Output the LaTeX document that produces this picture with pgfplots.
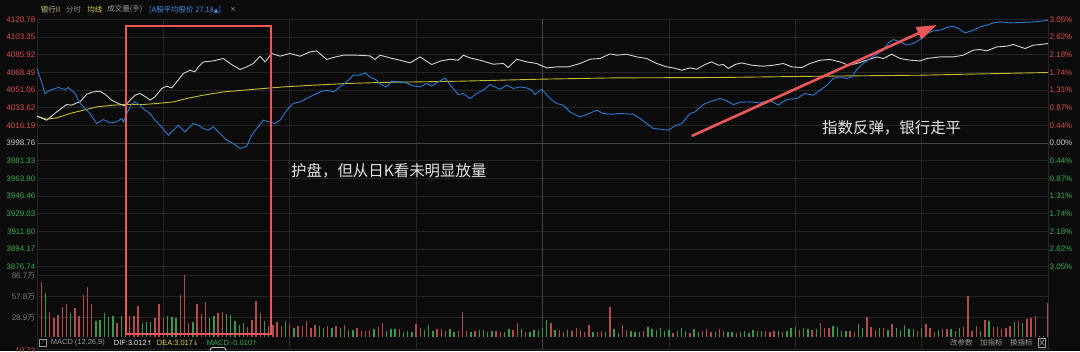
\documentclass[border=0pt]{standalone}
\usepackage{pgfplots}
\pgfplotsset{compat=1.18}
\usepackage{fontspec}
\setmainfont{Liberation Sans}
\newfontfamily\cjk{Noto Sans CJK SC}
\newfontfamily\sym{DejaVu Sans}
\usetikzlibrary{arrows.meta}

\definecolor{bg}{HTML}{0B0B0B}
\definecolor{gridc}{HTML}{262626}
\definecolor{gridhi}{HTML}{444444}
\definecolor{upred}{HTML}{D9504E}
\definecolor{dngreen}{HTML}{3DAE4F}
\definecolor{flatgray}{HTML}{CFCFCF}
\definecolor{pxwhite}{HTML}{D4D4D4}
\definecolor{pxblue}{HTML}{2E7BD4}
\definecolor{pxyellow}{HTML}{C6BE30}
\definecolor{volred}{HTML}{B54B4B}
\definecolor{volgreen}{HTML}{3A9A4C}
\definecolor{labgray}{HTML}{9C9C9C}
\definecolor{hdrkhaki}{HTML}{CFC48A}
\definecolor{hdryellow}{HTML}{E0CF3A}
\definecolor{hdrblue}{HTML}{3F8FE6}
\definecolor{markred}{HTML}{EC5757}
\definecolor{annot}{HTML}{E6E6E6}

\pgfplotsset{
  panel/.style={
    anchor=south west, scale only axis, width=1011bp,
    xmin=0, xmax=240,
    axis line style={draw=none}, major tick length=0pt,
    xtick={0,30,...,240}, xticklabels={},
    grid=major, grid style={gridc, line width=0.7bp},
    yticklabel style={font=\fontsize{8}{9.6}\selectfont, inner xsep=1.5bp},
  },
  pricey/.style={
    ymin=3876.74, ymax=4120.78,
    ytick={3876.74,3894.17,3911.60,3929.03,3946.46,3963.90,3981.33,3998.76,
           4016.19,4033.62,4051.06,4068.49,4085.92,4103.35,4120.78},
  },
}

\begin{document}
\begin{tikzpicture}
% page background, 1080 x 351
\fill[bg] (0bp,0bp) rectangle (1080bp,351bp);

% ---------- intraday price panel ----------
\begin{axis}[panel, pricey, at={(37bp,84.3bp)}, height=247.4bp,
  yticklabels={
    \textcolor{dngreen}{3876.74},\textcolor{dngreen}{3894.17},\textcolor{dngreen}{3911.60},
    \textcolor{dngreen}{3929.03},\textcolor{dngreen}{3946.46},\textcolor{dngreen}{3963.90},
    \textcolor{dngreen}{3981.33},\textcolor{flatgray}{3998.76},\textcolor{upred}{4016.19},
    \textcolor{upred}{4033.62},\textcolor{upred}{4051.06},\textcolor{upred}{4068.49},
    \textcolor{upred}{4085.92},\textcolor{upred}{4103.35},\textcolor{upred}{4120.78}},
]
\draw[gridhi, line width=0.8bp] (axis cs:0,3998.76) -- (axis cs:240,3998.76);
\draw[gridhi, line width=0.8bp] (axis cs:120,3876.74) -- (axis cs:120,4120.78);

% average price
\addplot[pxyellow, line width=0.9bp] coordinates {
(0,4025.20) (2.30,4022.24) (4.68,4023.52) (7.83,4027.86) (10.99,4031.11) (14.17,4034.37)
(18.11,4036.05) (21.29,4036.74) (25.24,4036.74) (28.42,4037.72) (32.36,4039.30) (35.54,4042.65)
(39.48,4045.91) (44.23,4049.16) (48.98,4050.84) (53.72,4052.52) (58.47,4054.10) (65.59,4055.77)
(73.52,4057.45) (81.43,4058.44) (100.42,4059.72) (119.41,4061.69) (136.81,4062.98) (162.14,4063.37)
(185.89,4064.65) (209.62,4065.64) (240,4068.30)};

% sector index
\addplot[pxwhite, line width=0.9bp] coordinates {
(0,4025.20) (2.30,4021.25) (4.68,4029.44) (7.05,4036.74) (8.24,4036.05) (9.42,4038.31) (10.21,4039.30)
(11.80,4046.90) (13.37,4049.16) (14.96,4049.86) (16.14,4046.90) (17.73,4040.98) (19.30,4037.72)
(20.89,4035.36) (22.08,4040.98) (23.27,4045.91) (24.45,4047.59) (26.04,4043.64) (26.83,4040.98)
(28.01,4044.23) (29.60,4052.52) (30.79,4054.79) (31.98,4053.11) (33.16,4059.03) (34.73,4067.31)
(36.32,4070.57) (37.51,4068.89) (38.29,4073.83) (39.48,4078.76) (41.85,4079.74) (44.23,4082.11)
(45.82,4077.18) (48.19,4071.26) (49.78,4073.83) (51.35,4077.18) (52.94,4084.38) (54.13,4078.76)
(55.72,4087.04) (57.69,4084.38) (60.06,4087.04) (62.44,4084.38) (64.81,4088.62) (66.40,4089.61)
(68.77,4081.12) (70.34,4083.10) (72.72,4085.37) (75.90,4085.37) (79.05,4084.68) (80.24,4081.12)
(81.43,4085.37) (83.80,4082.70) (86.17,4080.43) (88.55,4077.77) (90.92,4083.69) (93.70,4076.19)
(95.67,4079.45) (98.05,4081.42) (100.02,4080.43) (101.20,4085.37) (102.79,4082.70) (105.17,4080.43)
(108.32,4076.49) (110.70,4077.18) (111.88,4073.23) (113.88,4081.42) (116.25,4078.76) (118.63,4077.18)
(121.00,4072.84) (123.38,4073.83) (126.13,4073.83) (128.91,4077.18) (131.28,4081.42) (133.66,4082.11)
(136.03,4086.65) (137.62,4085.37) (139.99,4086.35) (142.37,4083.69) (144.74,4082.11) (147.11,4077.18)
(149.49,4073.83) (151.06,4072.84) (153.05,4070.57) (155.02,4072.84) (156.61,4071.56) (158.58,4076.19)
(160.17,4078.76) (161.74,4075.50) (162.93,4076.19) (164.12,4072.25) (165.71,4076.19) (167.29,4077.77)
(169.67,4075.50) (172.42,4074.52) (174.80,4075.50) (177.17,4077.18) (179.17,4073.83) (181.54,4073.23)
(183.51,4077.18) (185.89,4080.43) (188.26,4081.12) (190.64,4078.76) (192.61,4075.50) (194.60,4077.18)
(196.97,4080.43) (199.35,4083.69) (200.91,4082.11) (202.90,4086.35) (204.87,4082.11) (207.25,4080.43)
(209.62,4079.74) (211.21,4082.11) (214.37,4083.69) (217.53,4083.69) (219.90,4085.37) (222.28,4090.30)
(223.87,4090.99) (225.46,4089.61) (227.83,4093.55) (230.21,4094.24) (231.77,4095.92) (234.55,4091.97)
(236.52,4095.23) (238.90,4096.22) (240,4096.91)};

% broad market index
\addplot[pxblue, line width=0.9bp] coordinates {
(0,4072.25) (0.95,4060.71) (1.90,4047.59) (3.09,4050.84) (5.06,4053.51) (6.65,4051.53) (7.43,4053.51)
(9.02,4047.59) (10.21,4038.02) (11.40,4032.79) (12.58,4027.86) (14.17,4017.99) (15.74,4021.94)
(17.33,4018.59) (18.92,4019.57) (20.11,4022.93) (20.49,4019.57) (21.29,4027.86) (22.48,4037.03)
(23.27,4039.30) (24.45,4036.05) (25.64,4031.11) (26.83,4027.86) (28.01,4021.25) (29.60,4014.64)
(31.17,4006.45) (32.36,4011.39) (33.54,4016.32) (35.13,4009.71) (37.10,4017.99) (38.29,4016.32)
(39.48,4013.06) (40.67,4011.39) (41.85,4014.64) (43.44,4008.13) (45.03,4001.52) (46.60,3998.27)
(48.19,3993.33) (49.78,3995.60) (50.97,4006.45) (52.15,4013.06) (53.72,4021.25) (55.31,4019.28)
(56.50,4017.99) (57.69,4021.25) (59.28,4031.11) (60.85,4037.72) (62.44,4039.30) (64.03,4042.65)
(65.59,4045.91) (67.18,4049.16) (68.77,4050.84) (70.34,4049.16) (71.93,4054.10) (73.52,4059.03)
(75.09,4065.64) (76.68,4065.64) (77.87,4067.91) (79.05,4063.96) (80.64,4060.71) (81.43,4056.76)
(83.02,4054.10) (84.21,4059.72) (86.17,4059.03) (87.76,4058.04) (89.33,4055.08) (90.92,4054.10)
(92.51,4057.45) (93.70,4054.79) (95.27,4059.03) (96.86,4062.98) (98.45,4054.10) (100.02,4046.60)
(101.20,4047.59) (102.79,4042.65) (104.38,4047.59) (105.95,4050.84) (107.54,4056.46) (108.73,4054.10)
(109.91,4051.83) (111.50,4055.77) (113.07,4052.52) (114.66,4054.10) (116.25,4053.11) (117.44,4050.84)
(118.22,4046.60) (119.81,4051.83) (121.79,4042.65) (123.38,4037.72) (124.94,4036.05) (126.53,4029.44)
(128.91,4024.51) (130.50,4026.87) (132.87,4031.11) (134.44,4027.86) (136.43,4027.17) (138.40,4027.86)
(141.56,4027.17) (143.15,4022.93) (144.74,4017.99) (146.31,4013.06) (147.90,4012.37) (149.87,4011.39)
(151.46,4015.63) (153.05,4017.99) (155.02,4027.86) (156.21,4029.44) (158.18,4036.74) (160.17,4039.99)
(162.14,4042.65) (163.73,4040.48) (165.30,4036.54) (166.89,4039.01) (169.26,4039.30) (171.64,4038.31)
(174.01,4040.98) (175.98,4036.05) (177.98,4041.67) (180.35,4042.65) (182.32,4047.59) (184.29,4045.91)
(185.89,4050.84) (187.48,4055.77) (189.04,4062.38) (190.64,4063.96) (192.23,4062.38) (193.41,4063.96)
(194.60,4071.26) (196.16,4077.18) (197.75,4082.11) (198.94,4085.37) (200.91,4090.30) (202.10,4097.50)
(203.28,4100.85) (204.87,4098.49) (206.46,4095.23) (208.03,4096.91) (210.02,4101.84) (211.21,4106.77)
(212.77,4109.34) (214.37,4110.03) (215.96,4112.69) (217.53,4113.97) (219.12,4110.72) (220.30,4107.36)
(221.89,4109.34) (223.87,4113.28) (225.46,4114.96) (227.02,4117.23) (228.61,4118.21) (230.99,4117.23)
(233.36,4117.62) (236.52,4118.21) (238.90,4119.20) (240,4119.89)};
\end{axis}

% percent scale on the right
\begin{axis}[panel, pricey, at={(37bp,84.3bp)}, height=247.4bp, grid=none,
  yticklabel pos=right,
  yticklabels={
    \textcolor{dngreen}{3.05\%},\textcolor{dngreen}{2.62\%},\textcolor{dngreen}{2.18\%},
    \textcolor{dngreen}{1.74\%},\textcolor{dngreen}{1.31\%},\textcolor{dngreen}{0.87\%},
    \textcolor{dngreen}{0.44\%},\textcolor{flatgray}{0.00\%},\textcolor{upred}{0.44\%},
    \textcolor{upred}{0.87\%},\textcolor{upred}{1.31\%},\textcolor{upred}{1.74\%},
    \textcolor{upred}{2.18\%},\textcolor{upred}{2.62\%},\textcolor{upred}{3.05\%}},
]
\end{axis}

% ---------- volume panel ----------
\begin{axis}[panel, at={(37bp,14.5bp)}, height=69.8bp,
  ymin=2.2, ymax=99.2,
  ytick={28.9,57.8,86.7},
  yticklabels={28.9{\cjk 万},57.8{\cjk 万},86.7{\cjk 万}},
  yticklabel style={text=labgray!130},
]
\draw[gridhi, line width=0.8bp] (axis cs:120,2.2) -- (axis cs:120,99.2);
\addplot[ycomb, draw=volred, line width=1.4bp] coordinates {
(1,78.4) (3,36.7) (4,27.5) (5,32.1) (6,42.7) (7,46.9) (9,42.3) (10,31.2) (11,59.9) (12,71.4) (13,47.4)
(19,21.4) (22,30.7) (23,30.7) (24,44.6) (28,28.4) (29,46.9) (30,27.5) (34,59.9) (35,87.6) (36,20.5)
(38,46.9) (39,33.0) (40,49.7) (43,35.3) (44,35.8) (50,15.9) (51,25.1) (52,51.5) (53,35.3) (55,17.3)
(56,18.0) (57,22.8) (58,16.8) (60,19.1) (62,17.3) (63,16.8) (64,23.8) (65,13.6) (66,18.2) (69,16.8)
(71,16.8) (73,18.2) (76,13.6) (77,10.3) (78,10.3) (79,11.3) (81,15.9) (82,21.4) (86,12.2) (90,19.1)
(91,14.5) (95,12.6) (96,12.6) (97,9.9) (100,9.9) (101,36.7) (102,9.9) (104,9.9) (109,9.9) (110,8.9)
(113,11.3) (114,21.4) (116,8.9) (122,21.4) (124,11.3) (125,8.9) (127,9.9) (128,13.6) (129,11.3)
(130,8.9) (131,18.2) (133,8.9) (134,9.9) (136,42.7) (139,18.2) (140,11.3) (144,9.9) (151,7.5)
(155,7.5) (158,9.9) (159,12.2) (160,8.9) (162,12.2) (163,10.3) (166,7.5) (173,10.3) (174,8.9)
(175,9.9) (177,8.9) (181,11.3) (184,11.3) (186,20.5) (187,14.5) (188,13.6) (193,9.9) (194,8.9)
(197,29.8) (198,15.0) (199,11.3) (201,14.5) (203,19.1) (209,10.3) (211,19.6) (212,14.5) (213,8.9)
(215,12.6) (216,12.2) (220,15.0) (221,58.5) (222,10.3) (223,16.8) (225,25.1) (227,15.9) (228,15.9)
(229,12.6) (230,13.6) (231,16.8) (233,23.8) (235,26.5) (236,27.5) (237,30.7) (240,49.2)};
\addplot[ycomb, draw=volgreen, line width=1.4bp] coordinates {
(2,63.1) (8,35.3) (14,23.8) (15,25.1) (16,35.3) (17,29.8) (18,30.7) (20,30.7) (21,24.0) (25,20.5)
(26,21.9) (27,22.8) (31,30.7) (32,28.9) (33,27.5) (37,21.9) (41,27.5) (42,31.2) (45,33.0) (46,32.1)
(47,23.8) (48,18.2) (49,20.5) (54,23.8) (59,23.8) (61,13.6) (67,17.3) (68,13.6) (70,13.6) (72,14.5)
(74,11.3) (75,11.3) (80,12.2) (83,10.3) (84,12.2) (85,12.6) (87,8.9) (88,10.3) (89,8.9) (92,11.3)
(93,18.2) (94,9.9) (98,12.6) (99,8.9) (103,8.9) (105,11.3) (106,11.3) (107,8.9) (108,10.3) (111,8.0)
(112,12.6) (115,12.6) (117,8.9) (118,11.3) (119,11.3) (120,13.6) (121,25.1) (123,11.3) (126,11.3)
(132,8.9) (135,8.9) (137,12.6) (138,7.5) (141,10.3) (142,8.9) (143,8.9) (145,15.0) (146,12.6)
(147,11.3) (148,13.6) (149,10.3) (150,11.3) (152,10.3) (153,13.6) (154,10.3) (156,12.6) (157,8.9)
(161,8.9) (164,8.9) (165,8.0) (167,8.9) (168,10.3) (169,7.5) (170,11.3) (171,9.9) (172,9.9) (176,9.9)
(178,10.3) (179,14.5) (180,15.0) (182,13.6) (183,12.6) (185,12.6) (189,16.8) (190,15.0) (191,10.3)
(192,10.3) (195,19.6) (196,14.5) (200,13.6) (202,11.3) (204,13.6) (205,11.3) (206,18.2) (207,12.6)
(208,12.2) (210,13.6) (214,11.3) (217,12.2) (218,10.3) (219,13.6) (224,10.3) (226,23.8) (232,21.9)
(234,20.5) (238,3.0) (239,2.5)};
\end{axis}

\begin{scope}[x=1bp,y=1bp]
% ---------- header ----------
\begin{scope}[every node/.style={anchor=west, inner sep=0pt, font=\cjk\fontsize{7.5}{9}\selectfont}]
\node[text=hdrkhaki] at (40.7,341.5) {银行II};
\node[text=labgray!120] at (66,341.5) {分时};
\node[text=hdryellow] at (87.3,341.5) {均线};
\node[text=labgray] at (107.3,341.5) {成交量(手)};
\node[text=hdrblue] at (149,341.5) {[A股平均股价 27.18{\sym\fontsize{6}{7}\selectfont ▲}]};
\node[text=labgray] at (230,341.5) {\sym\fontsize{7}{8}\selectfont ×};
\end{scope}

% grid continues through the indicator strip
\foreach \k in {0,...,8} \draw[gridc, line width=0.7bp] ({37+126.375*\k},0) -- ({37+126.375*\k},14.5);
\draw[gridhi, line width=0.8bp] (542.5,0) -- (542.5,14.5);
\draw[gridc, line width=0.7bp] (37,1.7) -- (1048,1.7);

% ---------- indicator strip ----------
\fill[black] (39.3,4.5) rectangle (46.7,12);
\draw[labgray, line width=0.5bp] (39.3,4.5) rectangle (46.7,12);
\node[inner sep=0pt, text=labgray!130, font=\fontsize{6.5}{7}\selectfont] at (43,8.3) {?};
\begin{scope}[every node/.style={anchor=west, inner sep=0pt, font=\fontsize{7.5}{9}\selectfont}]
\node[text=labgray] at (50.7,8) {MACD (12,26,9)};
\node[text=annot] at (113.7,8) {DIF:3.012{\sym\fontsize{6.5}{7}\selectfont ↑}};
\node[text=hdryellow] at (156.7,8) {DEA:3.017{\sym\fontsize{6.5}{7}\selectfont ↓}};
\node[text=dngreen] at (206.7,8) {MACD:-0.010{\sym\fontsize{6.5}{7}\selectfont ↑}};
\end{scope}
\node[anchor=base east, inner sep=0pt, text=upred, font=\fontsize{8}{9}\selectfont] at (35.5,-2.6) {10.73};
\draw[white!80!black, line width=0.8bp, rounded corners=3bp] (210,-4) rectangle (226,3.6);
\begin{scope}[every node/.style={anchor=west, inner sep=0pt, text=labgray, font=\cjk\fontsize{7.5}{9}\selectfont}]
\node at (950,8.5) {改参数};
\node at (980,8.5) {加指标};
\node at (1010,8.5) {换指标};
\end{scope}
\draw[labgray, line width=0.6bp] (1038,4) rectangle (1045.7,13);
\draw[labgray, line width=0.6bp] (1039.5,5.5) -- (1044.2,11.5) (1039.5,11.5) -- (1044.2,5.5);

% ---------- annotations ----------
\draw[markred, line width=2bp] (125.7,16.7) rectangle (271,325);
\draw[markred, line width=2.6bp, -{Triangle[length=20bp,width=13bp]}] (691.7,215) -- (936.7,326);
\node[anchor=west, inner sep=0pt, text=annot, font=\cjk\fontsize{15.5}{17}\selectfont] at (291,180) {护盘，但从日K看未明显放量};
\node[anchor=west, inner sep=0pt, text=annot, font=\cjk\fontsize{15.5}{17}\selectfont] at (822,223) {指数反弹，银行走平};

% the page is exactly the background frame
\pgfresetboundingbox
\useasboundingbox (0,0) rectangle (1080,351);
\end{scope}
\end{tikzpicture}
\end{document}
